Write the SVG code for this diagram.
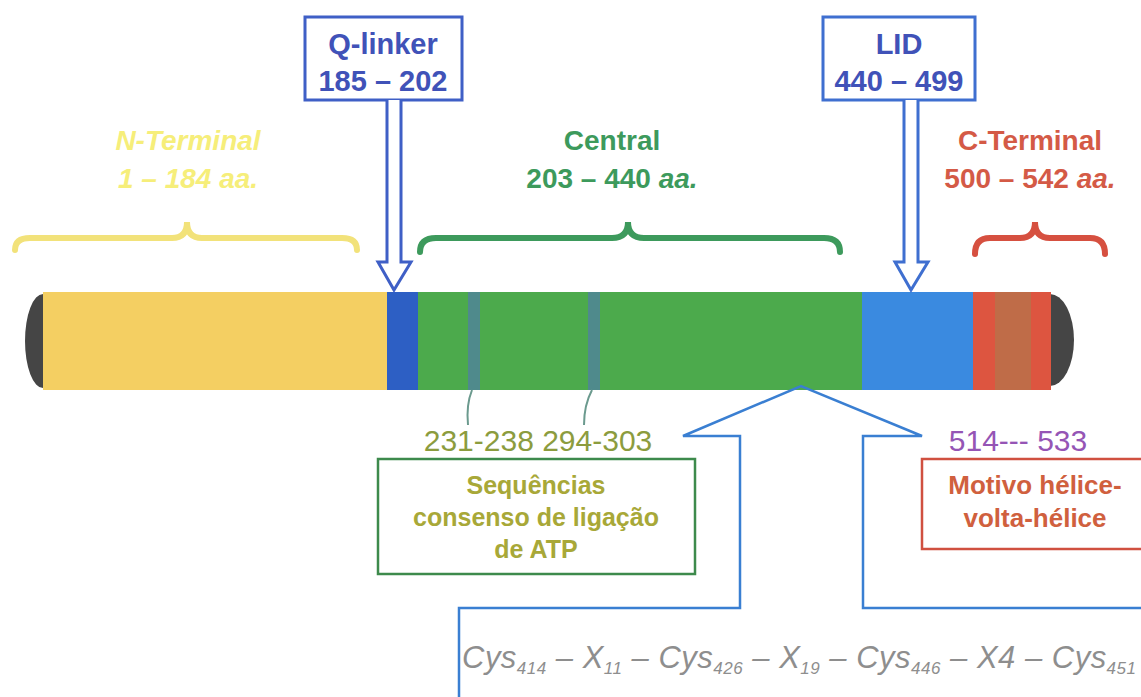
<svg xmlns="http://www.w3.org/2000/svg" width="1141" height="697" viewBox="0 0 1141 697">
<style>
.t{font-family:"Liberation Sans",Arial,sans-serif;text-anchor:middle;font-weight:bold}
.qt{fill:#4052b8;font-size:29px}
.nt{fill:#f6ee7a;font-size:28px;font-style:italic}
.ct{fill:#3d9a5c;font-size:28px}
.rt{fill:#d45a46;font-size:28px}
.box{fill:#fff;stroke-width:3}
.brace{fill:none;stroke-width:6;stroke-linecap:round}
.conn{fill:none;stroke:#6b9a8e;stroke-width:2}
</style>
<rect width="1141" height="697" fill="#fff"/>

<g id="bar">
  <path d="M43,294 A18,47 0 0 0 43,388 Z" fill="#454545"/>
  <path d="M1050,294 A24,46 0 0 1 1050,386 Z" fill="#454545"/>
  <rect x="43" y="292" width="345" height="98" fill="#f4cf62"/>
  <rect x="387" y="292" width="32" height="98" fill="#2d5fc4"/>
  <rect x="418" y="292" width="445" height="98" fill="#4caa4c"/>
  <rect x="468" y="292" width="12" height="98" fill="#4f8a8c"/>
  <rect x="588" y="292" width="12" height="98" fill="#4f8a8c"/>
  <rect x="862" y="292" width="111" height="98" fill="#3a8ae0"/>
  <rect x="973" y="292" width="22" height="98" fill="#dd5540"/>
  <rect x="995" y="292" width="36" height="98" fill="#bf6c48"/>
  <rect x="1031" y="292" width="20" height="98" fill="#dd5540"/>
</g>

<g id="qlinker">
  <rect class="box" x="305" y="17" width="157" height="83" stroke="#3f5fc6"/>
  <text class="t qt" x="383" y="54">Q-linker</text>
  <text class="t qt" x="383" y="91">185 – 202</text>
</g>

<g id="lid">
  <rect class="box" x="823" y="17" width="152" height="83" stroke="#3f6fd0"/>
  <text class="t qt" x="899" y="54">LID</text>
  <text class="t qt" x="899" y="91">440 – 499</text>
</g>

<g id="nterminal">
  <text class="t nt" x="188" y="150">N-Terminal</text>
  <text class="t nt" x="188" y="188">1 – 184 <tspan>aa.</tspan></text>
  <path class="brace" stroke="#f2e27a" d="M15,250 Q15,238 30,238 L172,238 Q187,238 187,222 Q187,238 202,238 L342,238 Q357,238 357,250"/>
</g>

<g id="central">
  <text class="t ct" x="612" y="150">Central</text>
  <text class="t ct" x="612" y="188">203 – 440 <tspan font-style="italic">aa.</tspan></text>
  <path class="brace" stroke="#3d9a5c" d="M420,252 Q420,238 436,238 L612,238 Q628,238 628,222 Q628,238 644,238 L824,238 Q840,238 840,252"/>
</g>

<g id="cterminal">
  <text class="t rt" x="1030" y="150">C-Terminal</text>
  <text class="t rt" x="1030" y="188">500 – 542 <tspan font-style="italic">aa.</tspan></text>
  <path class="brace" stroke="#d65040" d="M975,254 Q975,238 990,238 L1020,238 Q1035,238 1035,222 Q1035,238 1050,238 L1090,238 Q1105,238 1105,254"/>
</g>

<g id="connectors">
  <path d="M387,100 L387,262 L378,262 L394,290 L411,262 L401,262 L401,100" fill="#fff" stroke="#3f5fc6" stroke-width="3" stroke-linejoin="miter"/>
  <path d="M904,100 L904,262 L895,262 L911,290 L928,262 L918,262 L918,100" fill="#fff" stroke="#3f6fd0" stroke-width="3"/>
  <path class="conn" d="M472,390 Q466,405 468,425"/>
  <path class="conn" d="M592,390 Q584,405 584,425"/>
  <path d="M459,700 L459,608 L740,608 L740,436 L683,436 L801,386 L922,436 L863,436 L863,608 L1145,608" fill="none" stroke="#3a7fd2" stroke-width="2.5"/>
</g>

<g id="atp">
  <text class="t" x="538" y="451" style="font-weight:normal;font-size:30px;fill:#8c9c3e">231-238  294-303</text>
  <rect x="378" y="459" width="317" height="115" fill="#fff" stroke="#3d8a4c" stroke-width="2.5"/>
  <text class="t" x="536" y="494" style="font-size:25px;fill:#a8a838">Sequências</text>
  <text class="t" x="536" y="526" style="font-size:25px;fill:#a8a838">consenso de ligação</text>
  <text class="t" x="536" y="558" style="font-size:25px;fill:#a8a838">de ATP</text>
</g>

<g id="hth">
  <text class="t" x="1018" y="451" style="font-weight:normal;font-size:30px;fill:#9555b5">514--- 533</text>
  <rect x="922" y="459" width="225" height="90" fill="#fff" stroke="#d05040" stroke-width="2.5"/>
  <text class="t" x="1035" y="494" style="font-size:26px;fill:#d0603e">Motivo hélice-</text>
  <text class="t" x="1035" y="527" style="font-size:26px;fill:#d0603e">volta-hélice</text>
</g>

<g id="cys">
  <text x="462" y="668" textLength="674" lengthAdjust="spacing" style="font-family:'Liberation Sans',Arial,sans-serif;font-style:italic;font-size:31px;fill:#8e8e8e">Cys<tspan dy="6" font-size="17">414</tspan><tspan dy="-6"> – X</tspan><tspan dy="6" font-size="17">11</tspan><tspan dy="-6"> – Cys</tspan><tspan dy="6" font-size="17">426</tspan><tspan dy="-6"> – X</tspan><tspan dy="6" font-size="17">19</tspan><tspan dy="-6"> – Cys</tspan><tspan dy="6" font-size="17">446</tspan><tspan dy="-6">  – X4 – Cys</tspan><tspan dy="6" font-size="17">451</tspan></text>
</g>
</svg>
